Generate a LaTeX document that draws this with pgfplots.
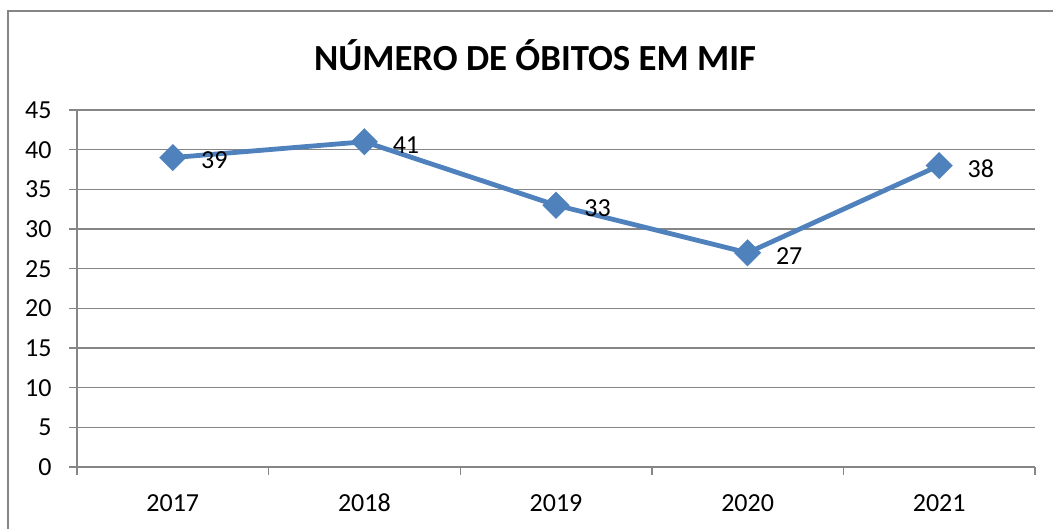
\documentclass[border=0pt]{standalone}
\usepackage{fontspec}
\setmainfont{Carlito}
\usepackage{pgfplots}
\pgfplotsset{compat=1.18}
\definecolor{excelblue}{HTML}{4F81BD}
\definecolor{gridgray}{HTML}{868686}

\begin{document}
\begin{tikzpicture}
  \begin{axis}[
    at={(38.5pt,31pt)}, anchor=south west,
    scale only axis, width=479pt, height=178.5pt,
    xmin=-0.5, xmax=4.5, ymin=0, ymax=45,
    ytick={0,5,...,45},
    xtick={0,1,2,3,4},
    xticklabels={2017,2018,2019,2020,2021},
    minor xtick={-0.5,0.5,1.5,2.5,3.5,4.5},
    axis x line*=bottom, axis y line*=left,
    axis line style={gridgray, line width=0.7pt, -},
    ymajorgrids, grid style={gridgray, line width=0.7pt},
    tick align=outside, major tick length=4pt, minor tick length=4pt,
    tick style={gridgray, line width=0.7pt},
    major x tick style={draw=none},
    /pgf/number format/assume math mode=true,
    tick label style={font=\fontsize{13}{15}\selectfont, text=black, inner sep=0pt},
    y tick label style={anchor=east, xshift=-8.5pt},
    x tick label style={anchor=base, yshift=-18.5pt},
    clip=false,
  ]
  \addplot[excelblue, line width=2.4pt, mark=square*, mark size=3.6pt,
    mark options={rotate=45, solid},
    nodes near coords,
    nodes near coords style={anchor=west, inner sep=0pt, text=black,
      font=\fontsize{13}{15}\selectfont, xshift=13pt, yshift=-1.5pt}]
    coordinates {(0,39) (1,41) (2,33) (3,27) (4,38)};
  \end{axis}
  \node[font=\fontsize{18.4}{22}\selectfont\bfseries] at (267.5pt,237pt) {NÚMERO DE ÓBITOS EM MIF};
  \draw[gridgray, line width=0.7pt] (4pt,-5pt) rectangle (540pt,259pt);
  \pgfresetboundingbox
  \path[use as bounding box] (0,0) rectangle (526.5pt,264.5pt);
\end{tikzpicture}
\end{document}
